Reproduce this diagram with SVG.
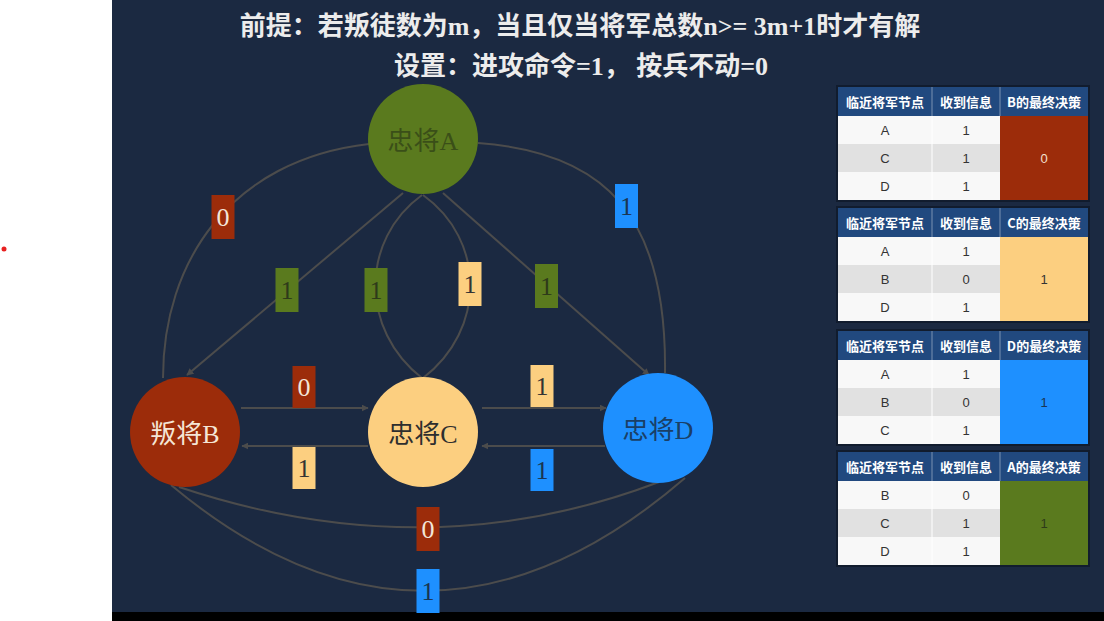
<svg xmlns="http://www.w3.org/2000/svg" width="1104" height="621" viewBox="0 0 1104 621">
<defs>
<style>
.title{font-family:"Liberation Serif","Noto Sans CJK SC",serif;font-weight:bold;font-size:26px;fill:#ececec;text-anchor:middle}
.nt{font-family:"Liberation Serif","Noto Sans CJK SC",serif;font-size:26px;text-anchor:middle;dominant-baseline:central}
.edge{fill:none;stroke:#4c4c4c;stroke-width:2}
.lbl{font-family:"Liberation Serif",serif;font-size:26px;text-anchor:middle;dominant-baseline:central}
.th{font-family:"Noto Sans CJK SC",sans-serif;font-weight:bold;font-size:13px;fill:#ffffff;text-anchor:middle;dominant-baseline:central}
.td{font-family:"Liberation Sans","Noto Sans CJK SC",sans-serif;font-size:13px;fill:#333333;text-anchor:middle;dominant-baseline:central}
.hbg{fill:#21497f}
.rw{fill:#f8f8f8}
.rg{fill:#e1e1e1}
.sep{stroke:#ffffff;stroke-width:1}
.red{fill:#9c2c0a}
.grn{fill:#5a7a1e}
.yel{fill:#fccf80}
.blu{fill:#1e90ff}
</style>
<marker id="arr" viewBox="0 0 10 10" refX="9" refY="5" markerWidth="7" markerHeight="7" orient="auto" markerUnits="userSpaceOnUse">
<path d="M0,0 L10,5 L0,10 z" fill="#4c4c4c"/>
</marker>
</defs>
<rect x="0" y="0" width="1104" height="621" fill="#ffffff"/>
<rect x="112" y="0" width="992" height="612" fill="#1b2941"/>
<rect x="112" y="612" width="992" height="9" fill="#000000"/>
<circle cx="4" cy="249" r="2.5" fill="#e82020"/>

<g id="title">
<text class="title" x="580" y="35">前提：若叛徒数为m，当且仅当将军总数n&gt;= 3m+1时才有解</text>
<text class="title" x="581" y="75">设置：进攻命令=1， 按兵不动=0</text>
</g>

<g id="connectors">
<path class="edge" d="M163,378 C163,262 230,160 369,144"/>
<path class="edge" d="M403,193 L187,375" marker-end="url(#arr)"/>
<path class="edge" d="M422,195 C360,240 360,330 422,378"/>
<path class="edge" d="M423,195 C486,240 486,330 423,378"/>
<path class="edge" d="M443,193 L649,375" marker-end="url(#arr)"/>
<path class="edge" d="M478,143 C605,152 667,215 665,373"/>
<path class="edge" d="M241,408 L368,408" marker-end="url(#arr)"/>
<path class="edge" d="M368,446 L242,446" marker-end="url(#arr)"/>
<path class="edge" d="M482,408 L606,408" marker-end="url(#arr)"/>
<path class="edge" d="M605,446 L482,446" marker-end="url(#arr)"/>
<path class="edge" d="M179,487 Q428,570 659,482"/>
<path class="edge" d="M171,485 Q428,700 685,478"/>

<g id="labels">
<rect class="red" x="211.5" y="195" width="23" height="44"/><text class="lbl" x="223" y="217" fill="#f3e6d8">0</text>
<rect class="grn" x="275.5" y="268" width="23" height="44"/><text class="lbl" x="287" y="290" fill="#2e3a1a">1</text>
<rect class="grn" x="364.5" y="268" width="23" height="44"/><text class="lbl" x="376" y="290" fill="#2e3a1a">1</text>
<rect class="yel" x="458.5" y="262" width="23" height="44"/><text class="lbl" x="470" y="284" fill="#333333">1</text>
<rect class="grn" x="535" y="264" width="23" height="44"/><text class="lbl" x="546.5" y="286" fill="#2e3a1a">1</text>
<rect class="blu" x="615" y="184" width="23" height="44"/><text class="lbl" x="626.5" y="206" fill="#1a3552">1</text>
<rect class="red" x="292.5" y="366" width="23" height="42"/><text class="lbl" x="304" y="387" fill="#f3e6d8">0</text>
<rect class="yel" x="292.5" y="447" width="23" height="42"/><text class="lbl" x="304" y="468" fill="#333333">1</text>
<rect class="yel" x="530.5" y="365" width="23" height="42"/><text class="lbl" x="542" y="386" fill="#333333">1</text>
<rect class="blu" x="530.5" y="449" width="23" height="42"/><text class="lbl" x="542" y="470" fill="#1a3552">1</text>
<rect class="red" x="416.5" y="507" width="23" height="44"/><text class="lbl" x="428" y="529" fill="#f3e6d8">0</text>
<rect class="blu" x="416.5" y="569" width="23" height="44"/><text class="lbl" x="428" y="591" fill="#1a3552">1</text>
</g>
</g>

<g id="nodeA">
<circle cx="423" cy="139" r="55" fill="#5a7a1e"/>
<text class="nt" x="423" y="141" fill="#3a4f18">忠将A</text>
</g>
<g id="nodeB">
<circle cx="185" cy="432" r="55" fill="#9c2c0a"/>
<text class="nt" x="185" y="434" fill="#f5e6d6">叛将B</text>
</g>
<g id="nodeC">
<circle cx="423" cy="432" r="55" fill="#fccf80"/>
<text class="nt" x="423" y="434" fill="#2e2e2e">忠将C</text>
</g>
<g id="nodeD">
<circle cx="658" cy="428" r="55" fill="#1e90ff"/>
<text class="nt" x="658" y="430" fill="#1a3f66">忠将D</text>
</g>

<g id="tableB">
<rect x="836" y="85" width="254" height="117" fill="#111c2e"/>
<rect class="hbg" x="838" y="87" width="250" height="29"/>
<line class="sep" x1="932" y1="87" x2="932" y2="116" stroke-opacity="0.4"/><line class="sep" x1="1000" y1="87" x2="1000" y2="116" stroke-opacity="0.4"/>
<text class="th" x="885" y="101.5">临近将军节点</text><text class="th" x="966" y="101.5">收到信息</text><text class="th" x="1044" y="101.5">B的最终决策</text>
<rect class="rw" x="838" y="116" width="162" height="28"/><rect class="rg" x="838" y="144" width="162" height="28"/><rect class="rw" x="838" y="172" width="162" height="28"/>
<line class="sep" x1="932" y1="116" x2="932" y2="200"/>
<rect class="red" x="1000" y="116" width="88" height="84"/>
<text class="td" x="885" y="130">A</text><text class="td" x="966" y="130">1</text>
<text class="td" x="885" y="158">C</text><text class="td" x="966" y="158">1</text>
<text class="td" x="885" y="186">D</text><text class="td" x="966" y="186">1</text>
<text class="td" x="1044" y="158" style="fill:#f3e0cf">0</text>
</g>

<g id="tableC">
<rect x="836" y="206" width="254" height="117" fill="#111c2e"/>
<rect class="hbg" x="838" y="208" width="250" height="29"/>
<line class="sep" x1="932" y1="208" x2="932" y2="237" stroke-opacity="0.4"/><line class="sep" x1="1000" y1="208" x2="1000" y2="237" stroke-opacity="0.4"/>
<text class="th" x="885" y="222.5">临近将军节点</text><text class="th" x="966" y="222.5">收到信息</text><text class="th" x="1044" y="222.5">C的最终决策</text>
<rect class="rw" x="838" y="237" width="162" height="28"/><rect class="rg" x="838" y="265" width="162" height="28"/><rect class="rw" x="838" y="293" width="162" height="28"/>
<line class="sep" x1="932" y1="237" x2="932" y2="321"/>
<rect class="yel" x="1000" y="237" width="88" height="84"/>
<text class="td" x="885" y="251">A</text><text class="td" x="966" y="251">1</text>
<text class="td" x="885" y="279">B</text><text class="td" x="966" y="279">0</text>
<text class="td" x="885" y="307">D</text><text class="td" x="966" y="307">1</text>
<text class="td" x="1044" y="279">1</text>
</g>

<g id="tableD">
<rect x="836" y="329" width="254" height="117" fill="#111c2e"/>
<rect class="hbg" x="838" y="331" width="250" height="29"/>
<line class="sep" x1="932" y1="331" x2="932" y2="360" stroke-opacity="0.4"/><line class="sep" x1="1000" y1="331" x2="1000" y2="360" stroke-opacity="0.4"/>
<text class="th" x="885" y="345.5">临近将军节点</text><text class="th" x="966" y="345.5">收到信息</text><text class="th" x="1044" y="345.5">D的最终决策</text>
<rect class="rw" x="838" y="360" width="162" height="28"/><rect class="rg" x="838" y="388" width="162" height="28"/><rect class="rw" x="838" y="416" width="162" height="28"/>
<line class="sep" x1="932" y1="360" x2="932" y2="444"/>
<rect class="blu" x="1000" y="360" width="88" height="84"/>
<text class="td" x="885" y="374">A</text><text class="td" x="966" y="374">1</text>
<text class="td" x="885" y="402">B</text><text class="td" x="966" y="402">0</text>
<text class="td" x="885" y="430">C</text><text class="td" x="966" y="430">1</text>
<text class="td" x="1044" y="402" style="fill:#1a3552">1</text>
</g>

<g id="tableA">
<rect x="836" y="450" width="254" height="117" fill="#111c2e"/>
<rect class="hbg" x="838" y="452" width="250" height="29"/>
<line class="sep" x1="932" y1="452" x2="932" y2="481" stroke-opacity="0.4"/><line class="sep" x1="1000" y1="452" x2="1000" y2="481" stroke-opacity="0.4"/>
<text class="th" x="885" y="466.5">临近将军节点</text><text class="th" x="966" y="466.5">收到信息</text><text class="th" x="1044" y="466.5">A的最终决策</text>
<rect class="rw" x="838" y="481" width="162" height="28"/><rect class="rg" x="838" y="509" width="162" height="28"/><rect class="rw" x="838" y="537" width="162" height="28"/>
<line class="sep" x1="932" y1="481" x2="932" y2="565"/>
<rect class="grn" x="1000" y="481" width="88" height="84"/>
<text class="td" x="885" y="495">B</text><text class="td" x="966" y="495">0</text>
<text class="td" x="885" y="523">C</text><text class="td" x="966" y="523">1</text>
<text class="td" x="885" y="551">D</text><text class="td" x="966" y="551">1</text>
<text class="td" x="1044" y="523" style="fill:#2e3a1a">1</text>
</g>
</svg>
